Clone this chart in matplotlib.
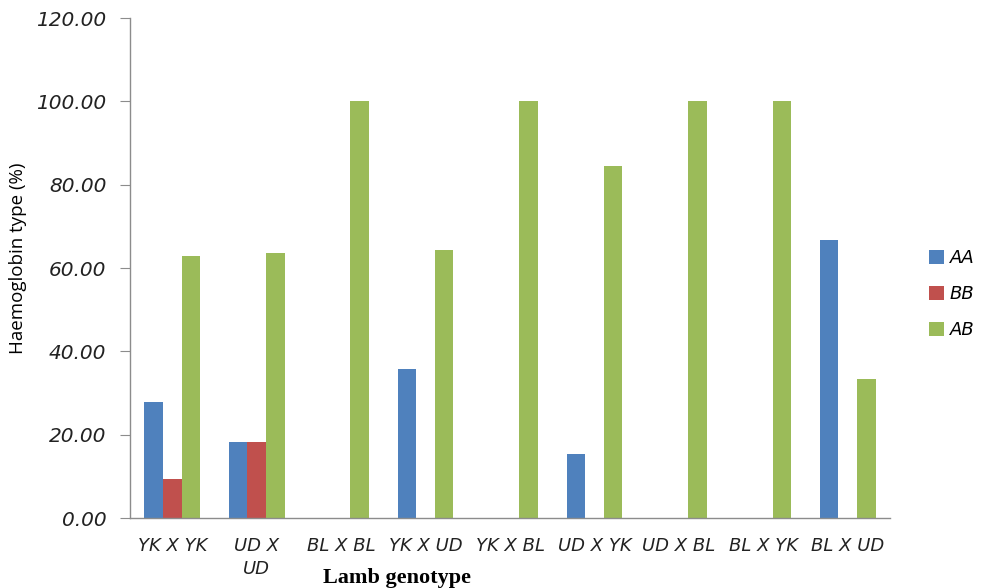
import matplotlib
matplotlib.use("Agg")
import matplotlib.pyplot as plt
import numpy as np
from matplotlib.ticker import FormatStrFormatter

categories = ["YK X YK", "UD X\nUD", "BL X BL", "YK X UD", "YK X BL",
              "UD X YK", "UD X BL", "BL X YK", "BL X UD"]
series_names = ["AA", "BB", "AB"]
aa = [27.8, 18.2, 0, 35.7, 0, 15.4, 0, 0, 66.7]
bb = [9.3, 18.2, 0, 0, 0, 0, 0, 0, 0]
ab = [63.0, 63.6, 100, 64.3, 100, 84.6, 100, 100, 33.3]
colors = ["#4F81BD", "#C0504D", "#9BBB59"]

fig = plt.figure(figsize=(9.85, 5.88), dpi=100)
ax = fig.add_axes([130 / 985, 70 / 588, 760 / 985, 500 / 588])

x = np.arange(len(categories))
w = 0.22
handles = []
for i, (vals, name, c) in enumerate(zip([aa, bb, ab], series_names, colors)):
    h = ax.bar(x + (i - 1) * w, vals, width=w, color=c, label=name, zorder=2)
    handles.append(h)

ax.set_xlim(-0.5, len(categories) - 0.5)
ax.set_ylim(0, 120)
ax.set_yticks(np.arange(0, 121, 20))
ax.yaxis.set_major_formatter(FormatStrFormatter("%.2f"))

for s in ["top", "right"]:
    ax.spines[s].set_visible(False)
for s in ["left", "bottom"]:
    ax.spines[s].set_color("#8c8c8c")
    ax.spines[s].set_linewidth(1.0)

ax.tick_params(axis="y", direction="out", length=7, color="#8c8c8c",
               labelsize=14.5, pad=10)
ax.tick_params(axis="x", length=0, labelsize=13, pad=14)
ax.set_xticks(x)
ax.set_xticklabels(categories, linespacing=1.3, va="top")
for lbl in ax.get_yticklabels() + ax.get_xticklabels():
    lbl.set_fontstyle("italic")
    lbl.set_color("#222222")

fig.text(18 / 985, 1 - 258 / 588, "Haemoglobin type (%)", rotation=90,
         ha="center", va="center", fontsize=13.5, family="Open Sans")
fig.text(397 / 985, 1 - 578 / 588, "Lamb genotype", ha="center", va="center",
         fontsize=16, fontweight="bold", family="Liberation Serif")

leg = fig.legend(handles=handles, labels=series_names,
                 loc="center left", bbox_to_anchor=(913 / 985, 1 - 294 / 588),
                 frameon=False, handlelength=0.8, handleheight=0.8,
                 handletextpad=0.35, labelspacing=1.0,
                 prop={"size": 13, "style": "italic"})

fig.savefig("out.png", dpi=100, facecolor="white")
